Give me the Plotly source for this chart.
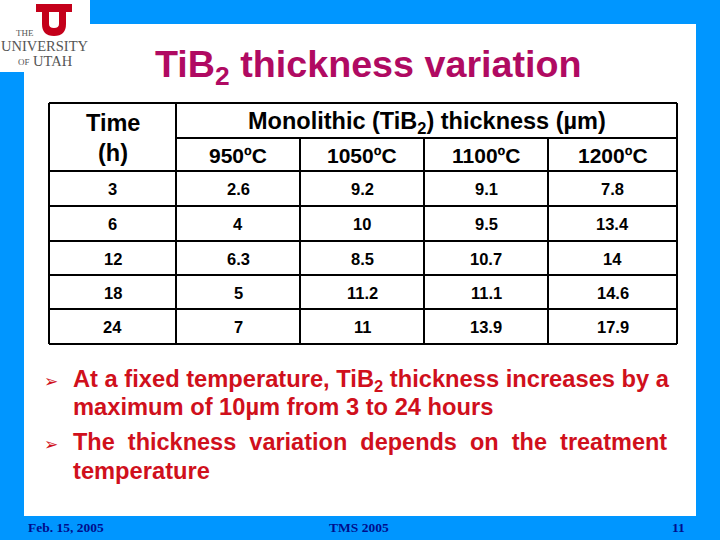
import plotly.graph_objects as go

BLUE = "#0096FF"
RED = "#D0101C"
TITLE = "#B00A62"
NAVY = "#000E8C"
FONT = "Liberation Sans"
BOLD = 700

title_text = "TiB<sub>2</sub> thickness variation"
time_header = ["Time", "(h)"]
group_header = "Monolithic (TiB<sub>2</sub>) thickness (µm)"
temperatures = ["950ºC", "1050ºC", "1100ºC", "1200ºC"]
times = ["3", "6", "12", "18", "24"]
t950 = ["2.6", "4", "6.3", "5", "7"]
t1050 = ["9.2", "10", "8.5", "11.2", "11"]
t1100 = ["9.1", "9.5", "10.7", "11.1", "13.9"]
t1200 = ["7.8", "13.4", "14", "14.6", "17.9"]
footer_date = "Feb. 15, 2005"
footer_conf = "TMS 2005"
footer_page = "11"

col_x = [49, 176, 300, 424, 548, 677]
row_y = [103, 138, 171, 206, 241, 275, 309, 344]

fig = go.Figure()
shapes = []


def rect(x0, y0, x1, y1, color):
    shapes.append(dict(type="rect", x0=x0, y0=y0, x1=x1, y1=y1, fillcolor=color,
                       line=dict(width=0), layer="below"))


def line(x0, y0, x1, y1):
    shapes.append(dict(type="line", x0=x0, y0=y0, x1=x1, y1=y1,
                       line=dict(color="black", width=2)))


rect(0, 0, 720, 540, BLUE)
rect(24, 24, 696, 516, "white")
rect(0, 0, 90, 72, "white")

shapes.append(dict(type="path",
                   path="M36,4 L72,4 L72,12 L66,12 L66,24 Q66,36 54,36 Q42,36 42,24 L42,12 L36,12 Z "
                        "M49,12 L49,24 Q49,28 54,28 Q59,28 59,24 L59,12 Z",
                   fillcolor="#C4001A", line=dict(width=0), fillrule="evenodd"))

for y in row_y:
    x0 = col_x[1] if y == row_y[1] else col_x[0]
    line(x0, y, col_x[-1], y)
for i, x in enumerate(col_x):
    y0 = row_y[1] if 2 <= i <= 4 else row_y[0]
    line(x, y0, x, row_y[-1])


def text(x, y, s, size, color="black", anchor="center", family=FONT, weight=None):
    fig.add_annotation(x=x, y=y, text=s, showarrow=False, xanchor=anchor, yanchor="middle",
                       font=dict(family=family, size=size, color=color, weight=weight))


text(368, 67, title_text, 37.7, TITLE, weight=BOLD)
text(113, 123, time_header[0], 23.5, weight=BOLD)
text(113, 153, time_header[1], 23.5, weight=BOLD)
text(427, 122, group_header, 23.5, weight=BOLD)

centers = [(col_x[i] + col_x[i + 1]) / 2 for i in range(5)]
for c, t in zip(centers[1:], temperatures):
    text(c, 155.5, t, 21, weight=BOLD)
for r, vals in enumerate(zip(times, t950, t1050, t1100, t1200)):
    ym = (row_y[r + 2] + row_y[r + 3]) / 2
    for c, v in zip(centers, vals):
        text(c, ym + 0.5, v, 16.5, weight=BOLD)

text(51, 381, "➢", 17, RED, family="DejaVu Sans")
text(51, 444, "➢", 17, RED, family="DejaVu Sans")
text(70.5, 381, "At a fixed temperature, TiB<sub>2</sub> thickness increases by a", 23.7, RED, "left", weight=BOLD)
text(70.5, 407, "maximum of 10µm from 3 to 24 hours", 23.7, RED, "left", weight=BOLD)
text(70.5, 442, "The  thickness  variation  depends  on  the  treatment", 23.5, RED, "left", weight=BOLD)
text(70.5, 471, "temperature", 23.7, RED, "left", weight=BOLD)

text(26, 527, footer_date, 13.5, NAVY, "left", "Liberation Serif", BOLD)
text(359, 527, footer_conf, 13.5, NAVY, "center", "Liberation Serif", BOLD)
text(687, 527, footer_page, 13.5, NAVY, "right", "Liberation Serif", BOLD)

text(25, 33, "THE", 9, "#555555", family="Liberation Serif")
text(45, 46, "UNIVERSITY", 14.5, "#555555", family="Liberation Serif")
text(24, 62, "OF", 9, "#555555", family="Liberation Serif")
text(53, 61, "UTAH", 14.5, "#555555", family="Liberation Serif")

fig.update_layout(width=720, height=540, margin=dict(l=0, r=0, t=0, b=0),
                  paper_bgcolor="white", plot_bgcolor="white", showlegend=False,
                  shapes=shapes,
                  xaxis=dict(range=[0, 720], visible=False, fixedrange=True),
                  yaxis=dict(range=[540, 0], visible=False, fixedrange=True))
fig.write_html("out.html", config=dict(displayModeBar=False),
               post_script="document.body.style.margin='0';document.body.style.overflow='hidden';")
